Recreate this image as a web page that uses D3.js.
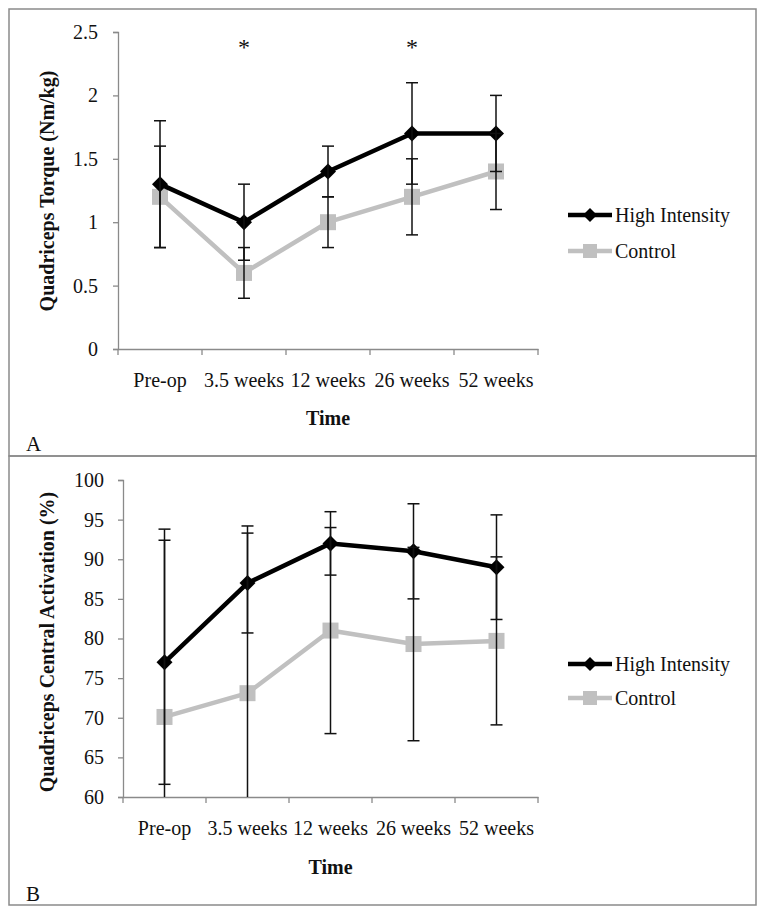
<!DOCTYPE html>
<html><head><meta charset="utf-8">
<script src="https://cdn.jsdelivr.net/npm/d3@7"></script>
<style>body{margin:0;background:#fff}svg{display:block}</style>
</head><body>
<script>
const categories = ["Pre-op","3.5 weeks","12 weeks","26 weeks","52 weeks"];
const seriesNames = ["High Intensity","Control"];
// Panel A: Quadriceps Torque
const torqueHigh = [1.3,1.0,1.4,1.7,1.7];
const torqueHighErr = [0.5,0.3,0.2,0.4,0.3];
const torqueCtrl = [1.2,0.6,1.0,1.2,1.4];
const torqueCtrlErr = [0.4,0.2,0.2,0.3,0.3];
const torqueTicks = [0,0.5,1,1.5,2,2.5];
const torqueSig = ["3.5 weeks","26 weeks"];
// Panel B: Central activation
const activHigh = [77,87,92,91,89];
const activHighErr = [15.4,6.3,4,6,6.6];
const activCtrl = [70.1,73.1,81,79.3,79.7];
const activCtrlErr = [23.7,21.1,13,12.2,10.6];
const activTicks = [60,65,70,75,80,85,90,95,100];

const FONT='"Liberation Serif","Times New Roman",Times,serif';
const W=766,H=916;
const svg=d3.select("body").append("svg").attr("width",W).attr("height",H);

function txt(sel,size,bold){
  return sel.style("font-family",FONT).style("font-size",size+"px").style("font-weight",bold?"bold":"normal").style("fill","#111");
}

function panel(o){
  const g=svg.append("g");
  g.append("rect").attr("x",o.box[0]).attr("y",o.box[1]).attr("width",o.box[2]).attr("height",o.box[3])
    .attr("fill","none").attr("stroke","#8a8a8a").attr("stroke-width",1.5);
  const x=d3.scaleBand().domain(categories).range([o.x0,o.x1]);
  const y=d3.scaleLinear().domain(o.domain).range([o.yb,o.yt]);
  const cx=c=>x(c)+x.bandwidth()/2;
  // axes
  const ya=g.append("g").attr("transform",`translate(${o.x0},0)`)
    .call(d3.axisLeft(y).tickValues(o.ticks).tickSize(5).tickPadding(o.tpad).tickFormat(d=>String(d)));
  ya.select(".domain").attr("stroke","#8a8a8a").attr("stroke-width",1.3);
  ya.selectAll(".tick line").attr("stroke","#8a8a8a").attr("stroke-width",1.3);
  txt(ya.selectAll("text"),20,false);
  const xa=g.append("g").attr("transform",`translate(0,${o.yb})`)
    .call(d3.axisBottom(x).tickSize(0).tickPadding(24));
  xa.select(".domain").attr("stroke","#8a8a8a").attr("stroke-width",1.3);
  txt(xa.selectAll("text"),20,false);
  // boundary ticks
  const bounds=categories.map(c=>x(c)).concat([o.x1]);
  g.selectAll(".bt").data(bounds).join("line").attr("x1",d=>d).attr("x2",d=>d)
    .attr("y1",o.yb).attr("y2",o.yb+6).attr("stroke","#8a8a8a").attr("stroke-width",1.3);
  // titles
  txt(g.append("text").attr("x",(o.x0+o.x1)/2).attr("y",o.timeY).attr("text-anchor","middle"),20,true).text("Time");
  txt(g.append("text").attr("transform",`translate(${o.ylx},${o.ylc}) rotate(-90)`)
    .attr("text-anchor","middle"),20,true).text(o.ylabel);
  txt(g.append("text").attr("x",26).attr("y",o.letterY),21,false).text(o.letter);
  const line=d3.line().x((d,i)=>cx(categories[i])).y(d=>y(d));
  const ser=[{v:o.ctrl,e:o.ctrlErr,c:"#c0c0c0",m:"sq"},{v:o.high,e:o.highErr,c:"#000",m:"dia"}];
  const clipId="clip"+o.letter;
  g.append("clipPath").attr("id",clipId).append("rect").attr("x",o.x0).attr("y",o.yt-30).attr("width",o.x1-o.x0+20).attr("height",o.yb-o.yt+30);
  ser.forEach(s=>{
    g.append("path").datum(s.v).attr("d",line).attr("fill","none").attr("stroke",s.c).attr("stroke-width",4.5).attr("stroke-linejoin","round");
    const pts=g.selectAll(null).data(s.v).join("g").attr("transform",(d,i)=>`translate(${cx(categories[i])},${y(d)})`);
    if(s.m==="sq") pts.append("rect").attr("x",-8).attr("y",-8).attr("width",16).attr("height",16).attr("fill",s.c);
    else pts.append("path").attr("d","M0,-8L8,0L0,8L-8,0Z").attr("fill",s.c);
  });
  // error bars on top
  const eb=g.append("g").attr("clip-path",`url(#${clipId})`);
  ser.forEach(s=>{
    s.v.forEach((v,i)=>{
      const xc=cx(categories[i]);
      const lo=y(v-s.e[i]),hi=y(v+s.e[i]);
      eb.append("line").attr("x1",xc).attr("x2",xc).attr("y1",lo).attr("y2",hi).attr("stroke","#111").attr("stroke-width",1.5);
      [lo,hi].forEach(yy=>eb.append("line").attr("x1",xc-6).attr("x2",xc+6).attr("y1",yy).attr("y2",yy).attr("stroke","#111").attr("stroke-width",1.5));
    });
  });
  if(o.sig) o.sig.forEach(c=>txt(g.append("text").attr("x",cx(c)).attr("y",o.sigY).attr("text-anchor","middle"),24,false).text("*"));
  // legend
  const leg=[{n:seriesNames[0],c:"#000",m:"dia",y:o.legY[0]},{n:seriesNames[1],c:"#c0c0c0",m:"sq",y:o.legY[1]}];
  leg.forEach(l=>{
    g.append("line").attr("x1",568).attr("x2",612).attr("y1",l.y).attr("y2",l.y).attr("stroke",l.c).attr("stroke-width",4.5);
    if(l.m==="sq") g.append("rect").attr("x",583).attr("y",l.y-7).attr("width",14).attr("height",14).attr("fill",l.c);
    else g.append("path").attr("transform",`translate(590,${l.y})`).attr("d","M0,-7L7,0L0,7L-7,0Z").attr("fill",l.c);
    txt(g.append("text").attr("x",615).attr("y",l.y+7),20,false).text(l.n);
  });
}

panel({box:[9,9,747,447],x0:118,x1:538,yb:349,yt:32,domain:[0,2.5],ticks:torqueTicks,tpad:15,
  high:torqueHigh,highErr:torqueHighErr,ctrl:torqueCtrl,ctrlErr:torqueCtrlErr,
  ylabel:"Quadriceps Torque (Nm/kg)",ylx:54,ylc:191,timeY:425,letter:"A",letterY:451,
  sig:torqueSig,sigY:55,legY:[215,251]});
panel({box:[9,456,747,449],x0:123,x1:538,yb:797,yt:480,domain:[60,100],ticks:activTicks,tpad:14,
  high:activHigh,highErr:activHighErr,ctrl:activCtrl,ctrlErr:activCtrlErr,
  ylabel:"Quadriceps Central Activation (%)",ylx:54,ylc:642,timeY:874,letter:"B",letterY:901,
  sig:null,legY:[664,698]});
</script>
</body></html>
